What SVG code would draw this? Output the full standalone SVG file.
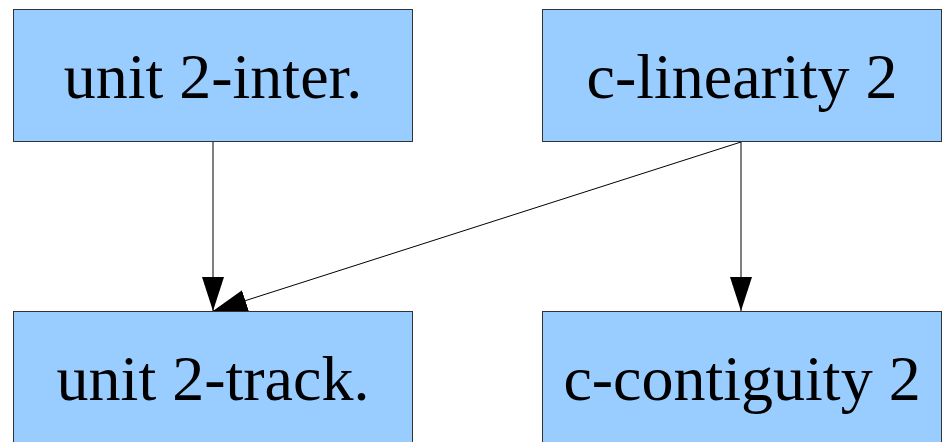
<svg xmlns="http://www.w3.org/2000/svg" width="947" height="442" viewBox="0 0 947 442">
<style>
.box{fill:#99ccff;stroke:#333;stroke-width:1}
.lbl{font-family:"Liberation Serif","Times New Roman",serif;font-size:64px;fill:#000;text-anchor:middle}
.edge{stroke:#000;stroke-width:1;fill:none}
</style>
<defs>
<marker id="ah" viewBox="0 0 34 22" refX="34" refY="11" markerWidth="34" markerHeight="22" markerUnits="userSpaceOnUse" orient="auto">
<path d="M0,0 L34,11 L0,22 Z" fill="#000"/>
</marker>
</defs>
<rect width="947" height="442" fill="#fff"/>
<g id="connectors">
<line class="edge" x1="213" y1="142" x2="213" y2="311" marker-end="url(#ah)"/>
<line class="edge" x1="741" y1="142" x2="213" y2="311" marker-end="url(#ah)"/>
<line class="edge" x1="741" y1="142" x2="741" y2="311" marker-end="url(#ah)"/>
</g>
<g id="n1"><rect class="box" x="13.5" y="9.5" width="399" height="132"/><text class="lbl" x="213" y="98">unit 2-inter.</text></g>
<g id="n2"><rect class="box" x="542.5" y="9.5" width="399" height="132"/><text class="lbl" x="742" y="98">c-linearity 2</text></g>
<g id="n3"><rect class="box" x="13.5" y="311.5" width="399" height="140"/><text class="lbl" x="213" y="400">unit 2-track.</text></g>
<g id="n4"><rect class="box" x="542.5" y="311.5" width="399" height="140"/><text class="lbl" x="742" y="400">c-contiguity 2</text></g>
</svg>
